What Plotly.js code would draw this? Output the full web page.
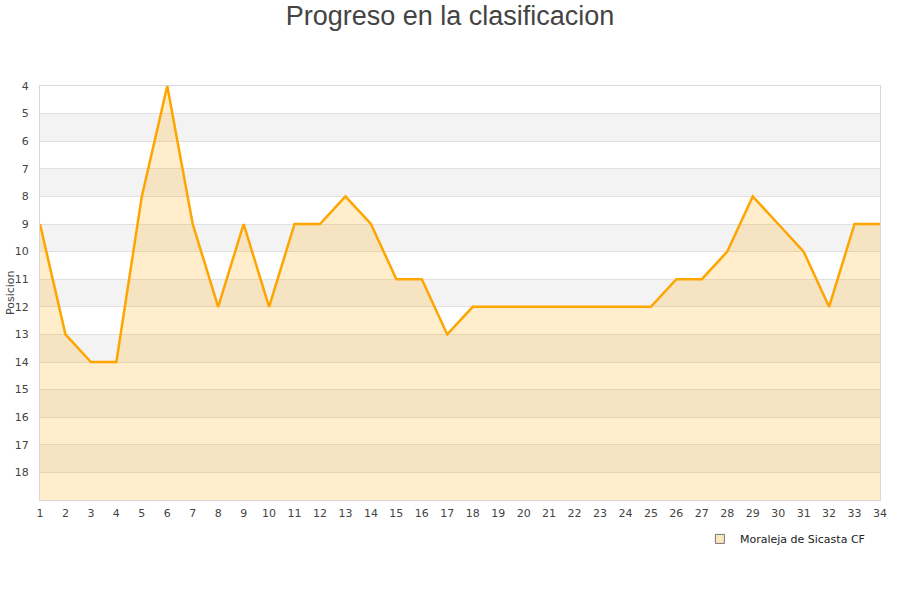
<!DOCTYPE html>
<html>
<head>
<meta charset="utf-8">
<script src="https://cdn.plot.ly/plotly-3.0.1.min.js"></script>
<style>html,body{margin:0;padding:0;background:#fff;}#chart{width:900px;height:600px;}</style>
</head>
<body>
<div id="chart"></div>
<script>
const jornadas = [1,2,3,4,5,6,7,8,9,10,11,12,13,14,15,16,17,18,19,20,21,22,23,24,25,26,27,28,29,30,31,32,33,34];
const posicion = [9,13,14,14,8,4,9,12,9,12,9,9,8,9,11,11,13,12,12,12,12,12,12,12,12,11,11,10,8,9,10,12,9,9];
const yTicks = [4,5,6,7,8,9,10,11,12,13,14,15,16,17,18];
const teamName = "Moraleja de Sicasta CF";
const yTitle = "Posicion";
const yBottom = 19;
const yTop = 4;

const baseline = jornadas.map(() => yBottom);

const shapes = [];
for (let p = yTop + 1; p < yBottom; p += 2) {
  shapes.push({type:'rect', xref:'paper', yref:'y', x0:0, x1:1, y0:p, y1:p+1,
    fillcolor:'#f3f3f3', line:{width:0}, layer:'below'});
}

const traces = [
  {x: jornadas, y: baseline, mode:'lines', line:{width:0, color:'rgba(0,0,0,0)'}, showlegend:false, hoverinfo:'skip'},
  {x: jornadas, y: posicion, name: teamName, mode:'lines', fill:'tonexty', showlegend:false,
   fillcolor:'rgba(255,165,0,0.2)', line:{color:'#ffa500', width:2.5}},
  {x: [null], y: [null], name: teamName, mode:'markers',
   marker:{symbol:'square', size:9, color:'#fde6c0', line:{color:'#777', width:1}}}
];

const layout = {
  width:900, height:600,
  margin:{l:40, r:20, t:86, b:100},
  paper_bgcolor:'#fff', plot_bgcolor:'#fff',
  font:{family:'DejaVu Sans, sans-serif', size:11, color:'#444'},
  title:{text:'Progreso en la clasificacion', x:0.5, xanchor:'center', yref:'container', y:0.99, yanchor:'top',
    font:{family:'Liberation Sans, Arial, sans-serif', size:27, color:'#444'}},
  xaxis:{range:[1,34], tickvals:jornadas, ticktext:jornadas.map(String), showgrid:false,
    zeroline:false, showline:true, linecolor:'#d8d8d8', linewidth:1, mirror:true,
    ticks:'outside', ticklen:3, tickcolor:'rgba(0,0,0,0)', tickfont:{size:11, color:'#444'}, fixedrange:true},
  yaxis:{range:[yBottom, yTop], tickvals:yTicks, ticktext:yTicks.map(String), showgrid:true,
    gridcolor:'#e0e0e0', gridwidth:1, zeroline:false, showline:true, linecolor:'#d8d8d8',
    linewidth:1, mirror:true, ticks:'outside', ticklen:8, tickcolor:'rgba(0,0,0,0)',
    tickfont:{size:11, color:'#444'}},
  annotations:[{text:yTitle, xref:'paper', yref:'paper', x:-0.0357, y:0.5, xanchor:'center', yanchor:'middle',
    textangle:-90, showarrow:false, font:{size:11, color:'#444'}}],
  shapes: shapes,
  showlegend:true,
  legend:{x:0.988, xanchor:'right', y:-0.094, yanchor:'middle', orientation:'h',
    font:{size:11, color:'#222'}, bgcolor:'rgba(0,0,0,0)', itemwidth:30}
};

Plotly.newPlot('chart', traces, layout, {displayModeBar:false, staticPlot:true});
</script>
</body>
</html>
